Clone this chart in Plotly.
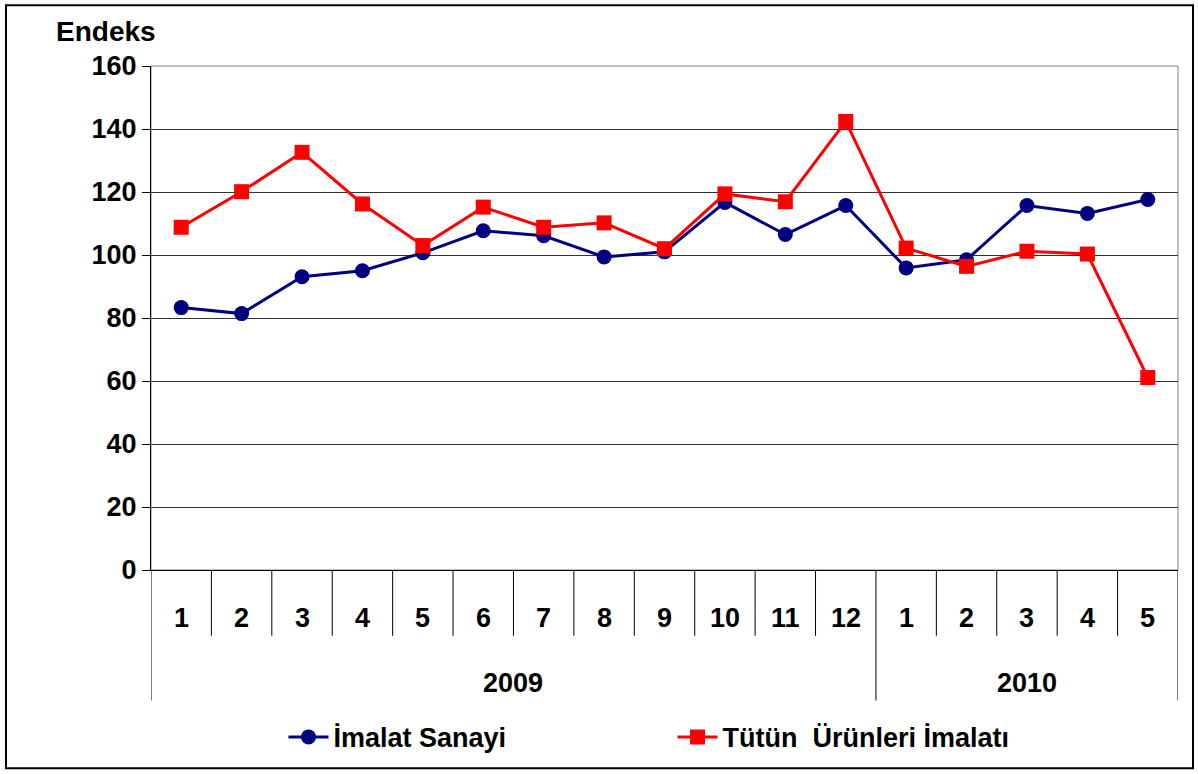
import plotly.graph_objects as go

months = ["1", "2", "3", "4", "5", "6", "7", "8", "9", "10", "11", "12", "1", "2", "3", "4", "5"]
years = ["2009"] * 12 + ["2010"] * 5
imalat = [83.3, 81.4, 93.1, 95.0, 100.7, 107.7, 106.1, 99.4, 101.0, 116.7, 106.5, 115.7,
          95.9, 98.5, 115.7, 113.2, 117.6]
tutun = [108.8, 120.1, 132.6, 116.2, 103.0, 115.2, 108.8, 110.2, 102.0, 119.4, 116.9, 142.4,
         102.2, 96.4, 101.2, 100.3, 61.1]
yticks = [0, 20, 40, 60, 80, 100, 120, 140, 160]

FONT = "Liberation Sans, Arial, sans-serif"
idx = list(range(len(months)))

fig = go.Figure()
fig.add_trace(go.Scatter(
    x=idx, y=imalat, name="İmalat Sanayi", mode="lines+markers",
    line=dict(color="#000080", width=3),
    marker=dict(symbol="circle", size=15, color="#000080"),
))
fig.add_trace(go.Scatter(
    x=idx, y=tutun, name="Tütün  Ürünleri İmalatı", mode="lines+markers",
    line=dict(color="#FF0000", width=3),
    marker=dict(symbol="square", size=15, color="#FF0000"),
))

# plot geometry in px
L, R, T, B = 151, 20, 66, 202
H = 774 - T - B
W = 1198 - L - R

def py(px):
    return -(px - (774 - B)) / H

shapes = []
annotations = []
# plot area border
shapes.append(dict(type="rect", xref="paper", yref="paper", x0=0, x1=1, y0=0, y1=1,
                   line=dict(color="#808080", width=1), layer="below"))
# month labels & separators
for i, m in enumerate(months):
    annotations.append(dict(x=i, y=py(620), xref="x", yref="paper", text=m,
                            showarrow=False, xanchor="center",
                            font=dict(size=27, color="black", family=FONT, weight="bold"),
                            yanchor="middle"))
for i in range(len(months) + 1):
    bx = i - 0.5
    is_year_edge = (i == 0 or i == len(months) or years[i] != years[i - 1])
    y_end = py(703) if is_year_edge else py(638)
    shapes.append(dict(type="line", xref="x", yref="paper", x0=bx, x1=bx, y0=0, y1=y_end,
                       line=dict(color="black", width=1)))
# year labels
for yv in dict.fromkeys(years):
    pos = [i for i, y in enumerate(years) if y == yv]
    annotations.append(dict(x=(pos[0] + pos[-1]) / 2, y=py(685), xref="x", yref="paper",
                            text=yv, showarrow=False, xanchor="center",
                            font=dict(size=27, color="black", family=FONT, weight="bold"),
                            yanchor="middle"))
# axis title
annotations.append(dict(x=(106 - L) / W, y=py(31), xref="paper", yref="paper",
                        text="Endeks", showarrow=False, xanchor="center",
                        font=dict(size=28, color="black", family=FONT, weight="bold"),
                        yanchor="middle"))
# outer border
shapes.append(dict(type="rect", xref="paper", yref="paper",
                   x0=(6 - L) / W, x1=(1193 - L) / W, y0=py(771), y1=py(5),
                   line=dict(color="black", width=2)))

fig.update_layout(
    width=1198, height=774,
    margin=dict(l=L, r=R, t=T, b=B),
    paper_bgcolor="white", plot_bgcolor="white",
    font=dict(family=FONT, size=24, color="black"),
    showlegend=True,
    legend=dict(orientation="h", x=0.5 + 8 / W, xanchor="center", y=py(740), yanchor="middle",
                font=dict(size=27, family=FONT, color="black", weight="bold"),
                entrywidth=334, itemwidth=40),
    shapes=shapes, annotations=annotations,
)
fig.update_xaxes(range=[-0.5, len(months) - 0.5], showticklabels=False, showgrid=False,
                 zeroline=False, showline=True, linecolor="black", linewidth=1, ticks="")
fig.update_yaxes(range=[0, 160], tickvals=yticks,
                 showgrid=True, gridcolor="#333333", gridwidth=1, zeroline=False,
                 showline=True, linecolor="black", linewidth=1, ticks="outside", ticklen=8,
                 tickcolor="black",
                 tickfont=dict(size=27, family=FONT, color="black", weight="bold"))

fig.write_html("out.html", config={"displayModeBar": False},
               post_script="document.body.style.margin='0';document.body.style.overflow='hidden';")
